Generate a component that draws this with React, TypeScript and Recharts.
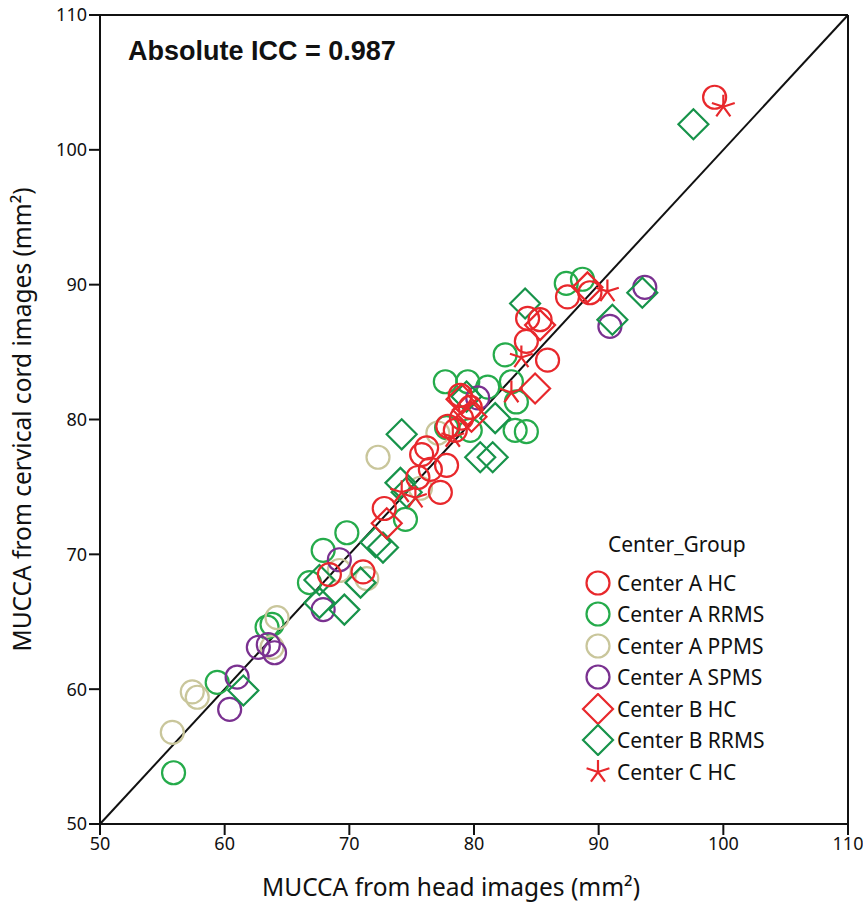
import { ScatterChart, Scatter, XAxis, YAxis, ReferenceLine } from 'recharts'

// values (head images x, cervical cord images y)
const aHC = [
  [99.3, 103.9], [87.5, 89.1], [89.3, 89.4], [84.3, 87.5], [85.3, 87.4], [84.2, 85.8],
  [85.9, 84.4], [79.0, 80.1], [77.9, 79.5], [78.9, 81.8], [78.5, 79.2], [79.7, 80.9],
  [76.2, 77.9], [75.8, 77.4], [77.8, 76.6], [76.5, 76.3], [75.5, 75.7], [77.3, 74.6],
  [72.8, 73.4], [68.4, 68.5], [71.1, 68.7],
]
const aRRMS = [
  [87.4, 90.1], [88.7, 90.4], [82.5, 84.8], [77.7, 82.8], [79.5, 82.8], [81.1, 82.4],
  [83.0, 82.8], [83.4, 81.3], [79.7, 79.2], [83.3, 79.2], [84.2, 79.1], [77.8, 79.4],
  [74.5, 72.6], [69.8, 71.6], [67.9, 70.3], [66.8, 67.9], [63.4, 64.6], [63.8, 64.8],
  [59.4, 60.5], [55.9, 53.8],
]
const aPPMS = [
  [72.3, 77.2], [77.1, 79.0], [75.7, 74.9], [69.2, 68.8], [71.4, 68.2], [64.2, 65.3],
  [63.8, 63.1], [57.4, 59.8], [57.8, 59.4], [55.8, 56.8],
]
const aSPMS = [
  [93.7, 89.8], [90.9, 86.9], [80.3, 81.6], [69.2, 69.6], [67.9, 65.9], [62.7, 63.1],
  [63.5, 63.3], [64.0, 62.7], [61.0, 60.9], [60.4, 58.5],
]
const bHC = [
  [89.1, 89.8], [84.9, 82.3], [79.0, 81.5], [79.5, 80.7], [79.8, 80.2], [73.0, 72.3], [85.3, 87.0],
]
const bRRMS = [
  [97.6, 101.9], [93.5, 89.4], [91.1, 87.4], [84.1, 88.6], [79.4, 81.7], [81.7, 80.1],
  [74.2, 78.9], [80.5, 77.2], [81.5, 77.2], [74.1, 75.3], [74.6, 74.6], [72.1, 70.9],
  [72.7, 70.5], [67.6, 68.1], [70.9, 67.9], [67.6, 66.4], [69.6, 65.9], [61.5, 59.9],
]
const cHC = [
  [100.0, 103.2], [90.7, 89.5], [83.8, 84.6], [83.0, 82.0], [78.3, 78.7], [74.2, 74.6], [75.3, 74.2],
]

const ticks = [50, 60, 70, 80, 90, 100, 110]

const RED = '#e8282c'
const GREEN = '#25ab4b'
const DGREEN = '#17934a'
const KHAKI = '#c9c69b'
const PURPLE = '#7a3190'

const toPts = (arr: number[][]) => arr.map(([x, y]) => ({ x, y }))

const Circle = (color: string) => (p: any) => (
  <circle cx={p.cx} cy={p.cy} r={11.5} fill="none" stroke={color} strokeWidth={2.2} />
)
const Diamond = (color: string) => (p: any) => {
  const s = 15
  return <path d={`M${p.cx},${p.cy - s}L${p.cx + s},${p.cy}L${p.cx},${p.cy + s}L${p.cx - s},${p.cy}Z`} fill="none" stroke={color} strokeWidth={2.2} />
}
const starPath = (cx: number, cy: number, r: number) =>
  [0, 1, 2, 3, 4].map(i => {
    const a = (-90 + i * 72) * Math.PI / 180
    return `M${cx},${cy}L${cx + r * Math.cos(a)},${cy + r * Math.sin(a)}`
  }).join('')
const Star = (color: string) => (p: any) => (
  <path d={starPath(p.cx, p.cy, 12)} fill="none" stroke={color} strokeWidth={2.2} />
)

const legendItems = [
  { label: 'Center A HC', kind: 'circle', color: RED },
  { label: 'Center A RRMS', kind: 'circle', color: GREEN },
  { label: 'Center A PPMS', kind: 'circle', color: KHAKI },
  { label: 'Center A SPMS', kind: 'circle', color: PURPLE },
  { label: 'Center B HC', kind: 'diamond', color: RED },
  { label: 'Center B RRMS', kind: 'diamond', color: DGREEN },
  { label: 'Center C HC', kind: 'star', color: RED },
]

function LegendMark({ kind, color }: { kind: string; color: string }) {
  return (
    <svg width={34} height={32} style={{ display: 'block' }}>
      {kind === 'circle' && <circle cx={17} cy={16} r={11.5} fill="none" stroke={color} strokeWidth={2.2} />}
      {kind === 'diamond' && <path d="M17,1L32,16L17,31L2,16Z" fill="none" stroke={color} strokeWidth={2.2} />}
      {kind === 'star' && <path d={starPath(17, 16, 12)} fill="none" stroke={color} strokeWidth={2.2} />}
    </svg>
  )
}

const tickStyle = { fontSize: 18, fill: '#111', fontFamily: 'Noto Sans' }
const axisLine = { stroke: '#111', strokeWidth: 2 }

export default function App() {
  return (
    <div style={{ position: 'absolute', left: 0, top: 0, width: 863, height: 903, background: '#fff', fontFamily: 'Noto Sans' }}>
      <ScatterChart width={863} height={903} margin={{ top: 15, right: 15, bottom: 19, left: 40 }}>
        <XAxis type="number" dataKey="x" domain={[50, 110]} ticks={ticks} tick={tickStyle} tickSize={11}
          tickLine={axisLine} axisLine={axisLine} height={60} allowDataOverflow
          label={{ value: 'MUCCA from head images (mm²)', position: 'insideBottom', offset: -12, dx: -23, fontSize: 24.5, fill: '#111', fontFamily: 'Noto Sans' }} />
        <YAxis type="number" dataKey="y" domain={[50, 110]} ticks={ticks} tick={tickStyle} tickSize={11}
          tickLine={axisLine} axisLine={axisLine} width={60} allowDataOverflow
          label={{ value: 'MUCCA from cervical cord images (mm²)', angle: -90, position: 'insideLeft', offset: -18, fontSize: 24.5, fill: '#111', fontFamily: 'Noto Sans', style: { textAnchor: 'middle' } }} />
        <ReferenceLine y={110} stroke="#111" strokeWidth={2} />
        <ReferenceLine x={110} stroke="#111" strokeWidth={2} />
        <ReferenceLine segment={[{ x: 50, y: 50 }, { x: 110, y: 110 }]} stroke="#111" strokeWidth={2} />
        <Scatter data={toPts(aRRMS)} shape={Circle(GREEN)} isAnimationActive={false} />
        <Scatter data={toPts(aPPMS)} shape={Circle(KHAKI)} isAnimationActive={false} />
        <Scatter data={toPts(aSPMS)} shape={Circle(PURPLE)} isAnimationActive={false} />
        <Scatter data={toPts(bRRMS)} shape={Diamond(DGREEN)} isAnimationActive={false} />
        <Scatter data={toPts(aHC)} shape={Circle(RED)} isAnimationActive={false} />
        <Scatter data={toPts(bHC)} shape={Diamond(RED)} isAnimationActive={false} />
        <Scatter data={toPts(cHC)} shape={Star(RED)} isAnimationActive={false} />
      </ScatterChart>
      <div style={{ position: 'absolute', left: 128, top: 36, fontFamily: 'Liberation Sans', fontWeight: 700, fontSize: 27, color: '#111' }}>
        Absolute ICC = 0.987
      </div>
      <div style={{ position: 'absolute', left: 581, top: 530, color: '#111' }}>
        <div style={{ fontSize: 21, marginLeft: 27, marginBottom: 9 }}>Center_Group</div>
        {legendItems.map(it => (
          <div key={it.label} style={{ display: 'flex', alignItems: 'center', height: 31.5 }}>
            <LegendMark kind={it.kind} color={it.color} />
            <span style={{ fontSize: 21, marginLeft: 2 }}>{it.label}</span>
          </div>
        ))}
      </div>
    </div>
  )
}
